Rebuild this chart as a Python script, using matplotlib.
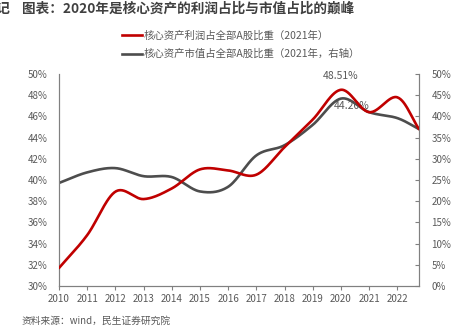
import numpy as np
import matplotlib
matplotlib.use("Agg")
import matplotlib.pyplot as plt
from matplotlib.lines import Line2D

plt.rcParams['font.family'] = ['Noto Sans CJK SC', 'DejaVu Sans']

years = [2010, 2011, 2012, 2013, 2014, 2015, 2016, 2017, 2018, 2019, 2020, 2021, 2022, 2022.77]
profit_share = [31.7, 34.8, 38.9, 38.2, 39.2, 41.0, 40.9, 40.5, 43.1, 45.7, 48.51, 46.4, 47.8, 44.8]
mcap_share = [24.3, 26.8, 27.8, 25.9, 25.7, 22.3, 23.4, 30.8, 33.2, 38.0, 44.2, 41.0, 39.6, 37.0]
xticks = list(range(2010, 2023))
left_ticks = list(range(30, 51, 2))
right_ticks = list(range(0, 51, 5))
series_names = ['核心资产利润占全部A股比重（2021年）', '核心资产市值占全部A股比重（2021年，右轴）']

RED = '#C00000'
GRAY = '#4D4D4D'
TXT = '#595959'


def catmull_rom(x, y, n=30):
    x = np.asarray(x, float); y = np.asarray(y, float)
    px = np.concatenate([[2*x[0]-x[1]], x, [2*x[-1]-x[-2]]])
    py = np.concatenate([[2*y[0]-y[1]], y, [2*y[-1]-y[-2]]])
    xs, ys = [], []
    for i in range(1, len(px)-2):
        t = np.linspace(0, 1, n, endpoint=False)
        for arr, out in ((px, xs), (py, ys)):
            p0, p1, p2, p3 = arr[i-1], arr[i], arr[i+1], arr[i+2]
            out.append(0.5*((2*p1) + (-p0+p2)*t + (2*p0-5*p1+4*p2-p3)*t**2 + (-p0+3*p1-3*p2+p3)*t**3))
    xs.append([x[-1]]); ys.append([y[-1]])
    return np.concatenate(xs), np.concatenate(ys)


fig = plt.figure(figsize=(4.56, 3.27), dpi=100)
ax = fig.add_axes([59/456, 1-286/327, 360/456, 212/327])
ax2 = ax.twinx()

sx, sy = catmull_rom(years, profit_share)
ax.plot(sx, sy, color=RED, lw=1.9, solid_capstyle='round', zorder=3)
gx, gy = catmull_rom(years, mcap_share)
ax2.plot(gx, gy, color=GRAY, lw=1.9, solid_capstyle='round', zorder=2)
ax.set_zorder(ax2.get_zorder()+1)
ax.patch.set_visible(False)

ax.set_xlim(2010, 2022.77)
ax.set_ylim(30, 50)
ax2.set_ylim(0, 50)
ax.set_xticks(xticks)
ax.set_xticklabels([str(v) for v in xticks], fontsize=7, color=TXT)
ax.set_yticks(left_ticks)
ax.set_yticklabels([f'{v}%' for v in left_ticks], fontsize=7, color=TXT)
ax2.set_yticks(right_ticks)
ax2.set_yticklabels([f'{v}%' for v in right_ticks], fontsize=7, color=TXT)

for a in (ax, ax2):
    for s in a.spines.values():
        s.set_color('#808080')
        s.set_linewidth(0.8)
    a.spines['top'].set_visible(False)
ax.tick_params(axis='y', length=0, pad=8)
ax.tick_params(axis='x', length=3, direction='out', color='#808080', pad=3)
ax2.tick_params(axis='y', length=3, direction='in', color='#808080', pad=9)

ax.annotate('48.51%', (2020, 48.51), xytext=(0, 6), textcoords='offset points',
            ha='center', va='bottom', fontsize=7.5, color=TXT)
ax2.annotate('44.20%', (2020, 44.2), xytext=(8, -2), textcoords='offset points',
             ha='center', va='top', fontsize=7.5, color=TXT)

fig.text(-5/456, 1-9/327, '记', fontsize=10, fontweight='bold', color='#404040', va='center', ha='left')
fig.text(22/456, 1-9/327, '图表：2020年是核心资产的利润占比与市值占比的巅峰', fontsize=9.8,
         fontweight='bold', color='#404040', va='center', ha='left')

handles = [Line2D([], [], color=RED, lw=1.9), Line2D([], [], color=GRAY, lw=1.9)]
fig.legend(handles, series_names, loc='center', bbox_to_anchor=(241/456, 1-45/327),
           frameon=False, fontsize=7.5, labelcolor=TXT, handlelength=1.9, handletextpad=0.15,
           labelspacing=0.75)

fig.text(22/456, 1-321/327, '资料来源：wind，民生证券研究院', fontsize=7, color=TXT, va='center', ha='left')

fig.savefig('out.png', dpi=100)
